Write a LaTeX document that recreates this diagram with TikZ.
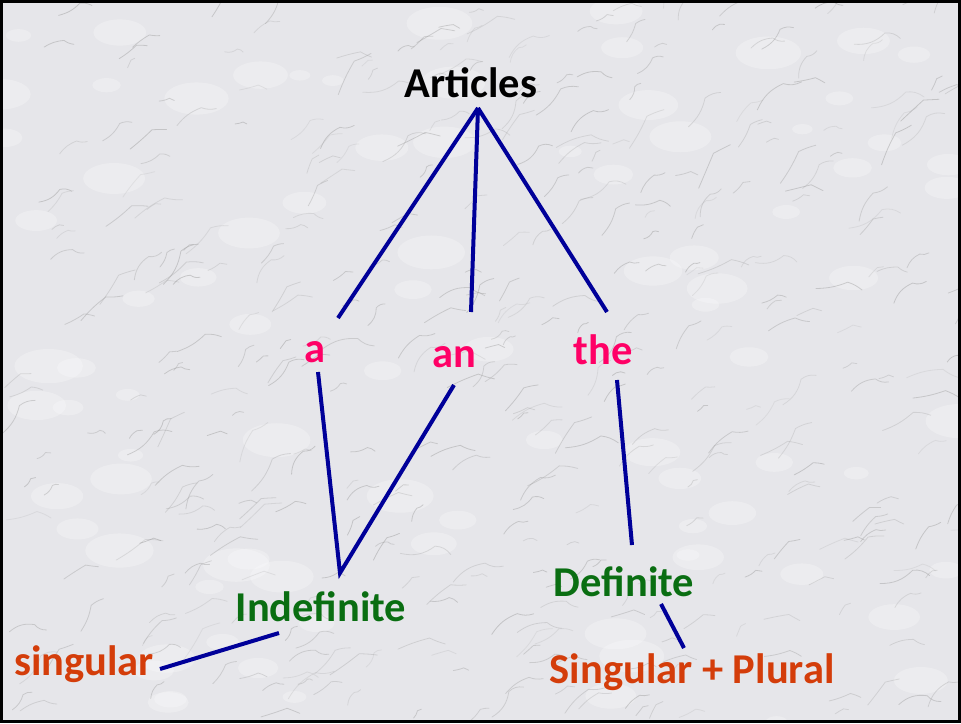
\documentclass[tikz,border=0pt]{standalone}
\usepackage{fontspec}
\setmainfont{Carlito}
\definecolor{linkblue}{HTML}{000099}
\definecolor{pinkart}{HTML}{FF0066}
\definecolor{greenart}{HTML}{0A6E12}
\definecolor{orangeart}{HTML}{D43D0A}
\definecolor{marble}{HTML}{E6E6EA}
\begin{document}
\begin{tikzpicture}[x=1pt,y=-1pt,
  lbl/.style={inner sep=0pt, font=\fontsize{42.5}{50}\selectfont\bfseries},
  link/.style={draw=linkblue, line width=4pt}]
\useasboundingbox (0,0) rectangle (961,723);
% marble background
\fill[marble] (0,0) rectangle (961,723);
\pgfmathsetseed{7}
\begin{scope}
\clip (0,0) rectangle (961,723);
\foreach \i in {1,...,90}{
  \pgfmathsetmacro\px{rnd*961}
  \pgfmathsetmacro\py{rnd*723}
  \pgfmathsetmacro\r{rnd*25+10}
  \fill[white, opacity=0.25] (\px,\py) ellipse[x radius=\r, y radius=\r*0.5];
}
\foreach \i in {1,...,420}{
  \pgfmathsetmacro\px{rnd*961}
  \pgfmathsetmacro\py{rnd*723}
  \pgfmathsetmacro\ang{-(rnd*60+10)}
  \pgfmathsetmacro\len{rnd*30+8}
  \pgfmathsetmacro\bend{rnd*50-25}
  \pgfmathsetmacro\op{rnd*0.3+0.15}
  \draw[gray!80, opacity=\op, line width=0.8pt, line cap=round] (\px,\py) to[bend left=\bend] ++(\ang:\len) to[bend right=\bend] ++(\ang+40:\len*0.5);
}
\end{scope}
\draw[black, line width=3pt] (1.5,1.5) rectangle (959.5,721.5);
% nodes
\node[lbl, black] (art) at (471,83) {Articles};
\node[lbl, pinkart] (a) at (315,352) {a};
\node[lbl, pinkart] (an) at (454,357) {an};
\node[lbl, pinkart] (the) at (603,350) {the};
\node[lbl, greenart] (indef) at (321,607) {Indefinite};
\node[lbl, greenart] (def) at (624,582) {Definite};
\node[lbl, orangeart] (sing) at (84,664) {singular};
\node[lbl, orangeart] (sp) at (692,672) {Singular + Plural};
% connector ends
\coordinate (top) at (478,108);
\coordinate (aTop) at (338,318);
\coordinate (anTop) at (471,312);
\coordinate (theTop) at (607,312);
\coordinate (aBot) at (318,372);
\coordinate (anBot) at (454,385);
\coordinate (theBot) at (617,380);
\coordinate (indTop) at (340,573);
\coordinate (defTop) at (632,545);
\coordinate (indBot) at (279,633);
\coordinate (singEnd) at (160,669);
\coordinate (defBot) at (661,604);
\coordinate (spTop) at (684,648);
\draw[link] (top) -- (aTop);
\draw[link] (top) -- (anTop);
\draw[link] (top) -- (theTop);
\draw[link] (aBot) -- (indTop) -- (anBot);
\draw[link] (theBot) -- (defTop);
\draw[link] (indBot) -- (singEnd);
\draw[link] (defBot) -- (spTop);
\end{tikzpicture}
\end{document}
